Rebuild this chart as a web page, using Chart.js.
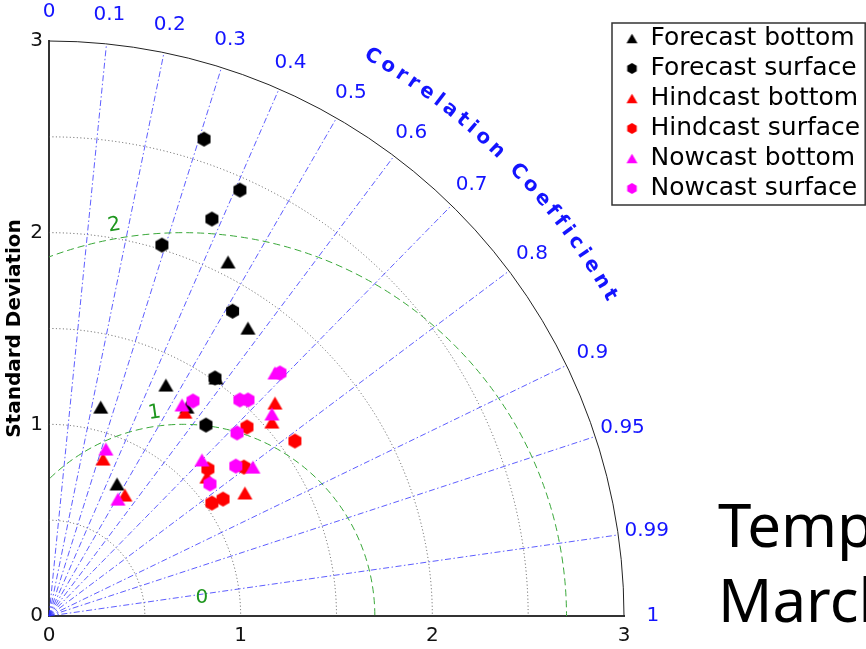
<!DOCTYPE html>
<html>
<head>
<meta charset="utf-8">
<script src="https://cdn.jsdelivr.net/npm/chart.js@4.4.0/dist/chart.umd.min.js"></script>
<style>
  html, body { margin: 0; padding: 0; background: #fff; }
  #wrap { width: 866px; height: 649px; }
</style>
</head>
<body>
<div id="wrap"><canvas id="taylor" width="866" height="649"></canvas></div>
<script>
// points as [std*cos, std*sin]
const forecastBottom  = [[0.27, 1.09], [0.61, 1.205], [0.72, 1.09], [0.934, 1.847], [1.038, 1.502], [0.871, 1.242], [0.355, 0.689]];
const forecastSurface = [[0.809, 2.488], [0.996, 2.222], [0.85, 2.071], [0.589, 1.935], [0.958, 1.59], [0.866, 1.242], [0.819, 0.996]];
const hindcastBottom  = [[0.282, 0.819], [0.396, 0.631], [0.709, 1.064], [1.179, 1.111], [1.163, 1.012], [0.824, 0.725], [1.022, 0.642]];
const hindcastSurface = [[1.283, 0.913], [1.033, 0.986], [1.017, 0.777], [0.829, 0.767], [0.908, 0.61], [0.85, 0.589]];
const nowcastBottom   = [[0.297, 0.871], [0.36, 0.61], [0.694, 1.101], [1.163, 1.054], [0.798, 0.814], [1.064, 0.777], [1.179, 1.268]];
const nowcastSurface  = [[0.751, 1.122], [0.996, 1.127], [1.038, 1.127], [0.981, 0.955], [0.975, 0.782], [0.84, 0.689], [1.205, 1.268]];

const seriesNames = ['Forecast bottom', 'Forecast surface', 'Hindcast bottom', 'Hindcast surface', 'Nowcast bottom', 'Nowcast surface'];
const seriesData = [forecastBottom, forecastSurface, hindcastBottom, hindcastSurface, nowcastBottom, nowcastSurface];
const seriesColors = ['#000000', '#000000', '#ff0000', '#ff0000', '#ff00ff', '#ff00ff'];
const seriesShapes = ['triangle', 'hexagon', 'triangle', 'hexagon', 'triangle', 'hexagon'];

const stdTicks = [0, 1, 2, 3];
const stdArcs = [0.5, 1, 1.5, 2, 2.5];
const stdMax = 3;
const corrTicks = [0, 0.1, 0.2, 0.3, 0.4, 0.5, 0.6, 0.7, 0.8, 0.9, 0.95, 0.99, 1];
const refStd = 0.7;
const rmsLevels = [0, 1, 2];
const titleLines = ['Temperature', 'March'];

function makeMarker(shape, color, size) {
  const c = document.createElement('canvas');
  c.width = c.height = size + 4;
  const g = c.getContext('2d');
  const m = c.width / 2, r = size / 2;
  g.fillStyle = color;
  g.beginPath();
  if (shape === 'triangle') {
    const h = size * 0.86 / 2;
    g.moveTo(m, m - h);
    g.lineTo(m + r, m + h);
    g.lineTo(m - r, m + h);
  } else {
    for (let k = 0; k < 6; k++) {
      const a = Math.PI / 2 + k * Math.PI / 3;
      g.lineTo(m + r * Math.cos(a), m - r * Math.sin(a));
    }
  }
  g.closePath();
  g.fill();
  return c;
}

const datasets = seriesData.map((pts, i) => ({
  label: seriesNames[i],
  data: pts.map(p => ({x: p[0], y: p[1]})),
  pointStyle: makeMarker(seriesShapes[i], seriesColors[i], 15),
  legendStyle: makeMarker(seriesShapes[i], seriesColors[i], 11),
  pointRadius: 7,
  backgroundColor: seriesColors[i],
  borderColor: seriesColors[i],
  order: seriesData.length - i
}));

const taylorGrid = {
  id: 'taylorGrid',
  afterLayout(chart) {
    const lg = chart.legend;
    const dx = 621 - lg.left, dy = 21 - lg.top;
    lg.left += dx; lg.right += dx;
    lg.top += dy; lg.bottom += dy;
  },
  beforeDatasetsDraw(chart) {
    const {ctx, scales: {x, y}} = chart;
    const ox = x.getPixelForValue(0), oy = y.getPixelForValue(0);
    const unit = x.getPixelForValue(1) - ox;
    const R = stdMax * unit;
    ctx.save();

    // std dev arcs
    ctx.strokeStyle = '#555';
    ctx.lineWidth = 1;
    ctx.setLineDash([1, 2.5]);
    stdArcs.forEach(s => {
      ctx.beginPath();
      ctx.arc(ox, oy, s * unit, -Math.PI / 2, 0);
      ctx.stroke();
    });

    // correlation rays
    ctx.strokeStyle = 'rgba(40,40,255,0.75)';
    ctx.setLineDash([6, 2.5, 1.5, 2.5]);
    corrTicks.slice(1, -1).forEach(c => {
      const a = Math.acos(c);
      ctx.beginPath();
      ctx.moveTo(ox, oy);
      ctx.lineTo(ox + R * Math.cos(a), oy - R * Math.sin(a));
      ctx.stroke();
    });

    // centred rms circles
    ctx.save();
    ctx.beginPath();
    ctx.moveTo(ox, oy);
    ctx.arc(ox, oy, R, 0, -Math.PI / 2, true);
    ctx.closePath();
    ctx.clip();
    const cx = x.getPixelForValue(refStd);
    ctx.strokeStyle = '#3aa83a';
    ctx.setLineDash([7, 4]);
    rmsLevels.filter(k => k > 0).forEach(k => {
      ctx.beginPath();
      ctx.arc(cx, oy, k * unit, Math.PI, 0, false);
      ctx.stroke();
    });
    ctx.restore();

    ctx.fillStyle = '#1e961e';
    ctx.font = '20px "DejaVu Sans"';
    ctx.textAlign = 'center';
    ctx.textBaseline = 'middle';
    rmsLevels.forEach(k => {
      const ang = k === 0 ? 44 : 96 + k * 2;
      const rr = k === 0 ? 0.135 : k + 0.07;
      const a = ang * Math.PI / 180;
      ctx.save();
      ctx.translate(cx + rr * unit * Math.cos(a), oy - rr * unit * Math.sin(a));
      if (k > 0) ctx.rotate(-(ang - 90) * Math.PI / 180);
      ctx.fillText(String(k), 0, 0);
      ctx.restore();
    });

    // outer arc
    ctx.setLineDash([]);
    ctx.strokeStyle = '#222';
    ctx.lineWidth = 1;
    ctx.beginPath();
    ctx.arc(ox, oy, R, -Math.PI / 2, 0);
    ctx.stroke();

    // correlation labels
    ctx.fillStyle = '#1414ff';
    ctx.font = '20px "DejaVu Sans"';
    corrTicks.forEach(c => {
      const a = Math.acos(c), rr = 3.15 * unit;
      ctx.fillText(String(c), ox + rr * Math.cos(a), oy - rr * Math.sin(a));
    });

    // curved axis title
    const label = 'Correlation Coefficient';
    ctx.font = 'bold 20px "DejaVu Sans"';
    const spacing = 4.4, rad = 3.37 * unit;
    const widths = [...label].map(ch => ctx.measureText(ch).width);
    const total = widths.reduce((s, w) => s + w, 0) + spacing * (widths.length - 1);
    let run = 0;
    const mid = Math.PI / 4;
    [...label].forEach((ch, i) => {
      const a = mid + total / 2 / rad - (run + widths[i] / 2) / rad;
      ctx.save();
      ctx.translate(ox + rad * Math.cos(a), oy - rad * Math.sin(a));
      ctx.rotate(Math.PI / 2 - a);
      ctx.fillText(ch, 0, 0);
      ctx.restore();
      run += widths[i] + spacing;
    });
    ctx.restore();
  },
  afterDraw(chart) {
    const {ctx, legend: lg} = chart;
    ctx.save();
    const boxes = lg.legendHitBoxes;
    const right = Math.max(...boxes.map(b => b.left + b.width)) + 5;
    const last = boxes[boxes.length - 1];
    ctx.strokeStyle = '#333';
    ctx.lineWidth = 1.5;
    ctx.strokeRect(lg.left - 9, lg.top + 2, right - lg.left + 9, last.top + last.height + 4 - lg.top - 2);

    ctx.fillStyle = '#000';
    ctx.font = '60px "Noto Sans"';
    ctx.textAlign = 'left';
    ctx.textBaseline = 'alphabetic';
    titleLines.forEach((t, i) => ctx.fillText(t, 718, 547 + i * 75));
    ctx.restore();
  }
};

Chart.defaults.font.family = '"DejaVu Sans", sans-serif';

new Chart(document.getElementById('taylor'), {
  type: 'scatter',
  data: {datasets},
  options: {
    responsive: false,
    animation: false,
    layout: {padding: {left: 0, right: 242, top: 41, bottom: 0}},
    scales: {
      x: {
        type: 'linear', min: 0, max: stdMax,
        afterFit(s) { s.height = 33; },
        afterBuildTicks(s) { s.ticks = stdTicks.map(v => ({value: v})); },
        ticks: {padding: 8, color: '#111', font: {size: 20}},
        grid: {display: false, drawTicks: false},
        border: {display: true, color: '#333', width: 2}
      },
      y: {
        type: 'linear', min: 0, max: stdMax,
        afterFit(s) { s.width = 49; },
        afterBuildTicks(s) { s.ticks = stdTicks.map(v => ({value: v})); },
        ticks: {padding: 6, color: '#111', font: {size: 20}},
        grid: {display: false, drawTicks: false},
        border: {display: true, color: '#333', width: 2},
        title: {display: true, text: 'Standard Deviation', color: '#000',
                font: {size: 20, weight: 'bold'}, padding: {top: 3, bottom: 0}}
      }
    },
    plugins: {
      tooltip: {enabled: false},
      legend: {
        position: 'chartArea',
        align: 'start',
        labels: {
          usePointStyle: true,
          boxWidth: 12,
          padding: 5,
          color: '#111',
          font: {size: 25},
          generateLabels(chart) {
            return chart.data.datasets.map((ds, i) => ({
              text: ds.label,
              pointStyle: ds.legendStyle,
              fillStyle: ds.backgroundColor,
              strokeStyle: ds.borderColor,
              lineWidth: 0,
              hidden: false,
              datasetIndex: i
            }));
          }
        }
      }
    }
  },
  plugins: [taylorGrid]
});
</script>
</body>
</html>
